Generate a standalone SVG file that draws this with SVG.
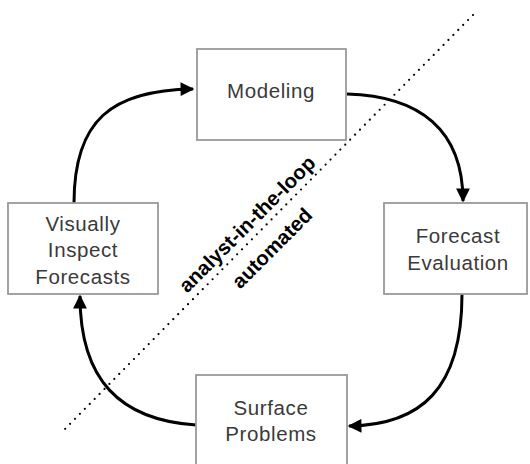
<svg xmlns="http://www.w3.org/2000/svg" width="530" height="464" viewBox="0 0 530 464">
<style>
.box{fill:#fff;stroke:#999;stroke-width:1.8}
.lbl{font-family:"Liberation Sans",Arial,sans-serif;font-size:20.5px;letter-spacing:0.6px;fill:#3a3a3a;text-anchor:middle}
.side{font-family:"Liberation Sans",Arial,sans-serif;font-size:20.5px;font-weight:bold;fill:#000;text-anchor:middle}
.edge{fill:none;stroke:#000;stroke-width:3}
.div{fill:none;stroke:#000;stroke-width:2.2;stroke-linecap:round;stroke-dasharray:0 7}
</style>
<defs>
<marker id="ah" viewBox="0 0 10 10" refX="9" refY="5" markerWidth="5" markerHeight="4.6" markerUnits="strokeWidth" orient="auto">
<path d="M0,0 L10,5 L0,10 Z" fill="#000"/>
</marker>
</defs>
<rect width="530" height="464" fill="#fff"/>
<line class="div" x1="473" y1="15" x2="65" y2="429"/>
<g id="connectors">
<path class="edge" d="M74,203 C74,120 112,90 193,89" marker-end="url(#ah)"/>
<path class="edge" d="M347,94 C420,96 463,130 463,201" marker-end="url(#ah)"/>
<path class="edge" d="M462,294 C462,390 420,425 349,426" marker-end="url(#ah)"/>
<path class="edge" d="M196,425 C120,420 80,380 80,296" marker-end="url(#ah)"/>
</g>
<g id="modeling">
<rect class="box" x="197" y="49" width="149" height="91"/>
<text class="lbl" x="271" y="98">Modeling</text>
</g>
<g id="visually-inspect">
<rect class="box" x="8" y="203" width="150" height="91"/>
<text class="lbl" x="83" y="231">Visually</text>
<text class="lbl" x="83" y="257">Inspect</text>
<text class="lbl" x="83" y="284">Forecasts</text>
</g>
<g id="forecast-evaluation">
<rect class="box" x="384" y="203" width="143" height="91"/>
<text class="lbl" x="458" y="243">Forecast</text>
<text class="lbl" x="458" y="270">Evaluation</text>
</g>
<g id="surface-problems">
<rect class="box" x="196" y="375" width="151" height="95"/>
<text class="lbl" x="271" y="415">Surface</text>
<text class="lbl" x="271" y="441">Problems</text>
</g>
<g id="labels">
<text class="side" transform="translate(252,229) rotate(-45)">analyst-in-the-loop</text>
<text class="side" transform="translate(277,253) rotate(-45)">automated</text>
</g>
</svg>
